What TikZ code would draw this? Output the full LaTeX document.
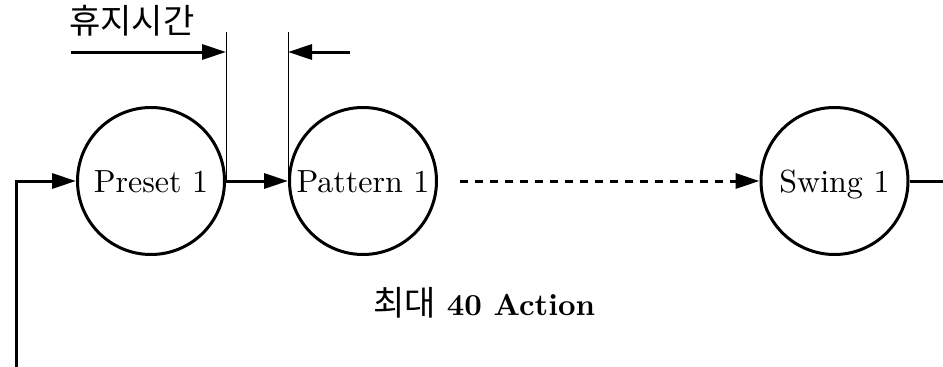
\documentclass[tikz,border=0pt]{standalone}
\usepackage{fontspec}
\setmainfont{lmroman10-regular}[Extension=.otf,BoldFont=lmroman10-bold]
\newfontfamily\kr{Noto Sans CJK KR}
\usetikzlibrary{arrows.meta}
\begin{document}
\begin{tikzpicture}[x=1pt,y=-1pt,
  state/.style={circle,draw,line width=3pt,minimum size=147pt,inner sep=0pt,
    font=\fontsize{32}{38}\selectfont,text height=22pt,text depth=0pt},
  conn/.style={line width=3pt,-{Triangle[length=24pt,width=15pt]}},
  plain/.style={line width=3pt},
  guide/.style={line width=0.9pt},
  lbl/.style={inner sep=0pt}]
\useasboundingbox (0,0) rectangle (943,367);
\node[state] (preset) at (151,181) {Preset 1};
\node[state] (pattern) at (363,181) {Pattern 1};
\node[state] (swing) at (834.5,181) {Swing 1};
\coordinate (bl) at (16,367);
\coordinate (re) at (943,181);
\coordinate (ds) at (460,181);
\coordinate (top) at (0,32);
\coordinate (a1) at (71,52);
\coordinate (a2) at (350,52);
\draw[conn] (bl) |- (preset.west);
\draw[conn] (preset.east) -- (pattern.west);
\draw[conn,dash pattern=on 8pt off 7pt] (ds) -- (swing.west);
\draw[plain] (swing.east) -- (re);
\draw[guide] (preset.east) -- (preset.east |- top);
\draw[guide] (pattern.west) -- (pattern.west |- top);
\draw[conn] (a1) -- (preset.east |- a1);
\draw[conn] (a2) -- (pattern.west |- a2);
\node[lbl,anchor=base west,font=\kr\fontsize{34}{40}\selectfont] (rest) at (69,33) {휴지시간};
\node[lbl,anchor=base west] (max) at (373,315) {{\kr\fontsize{34}{40}\selectfont 최대}\hspace{11pt}\fontsize{30.5}{36}\selectfont\bfseries 40 Action};
\end{tikzpicture}
\end{document}
